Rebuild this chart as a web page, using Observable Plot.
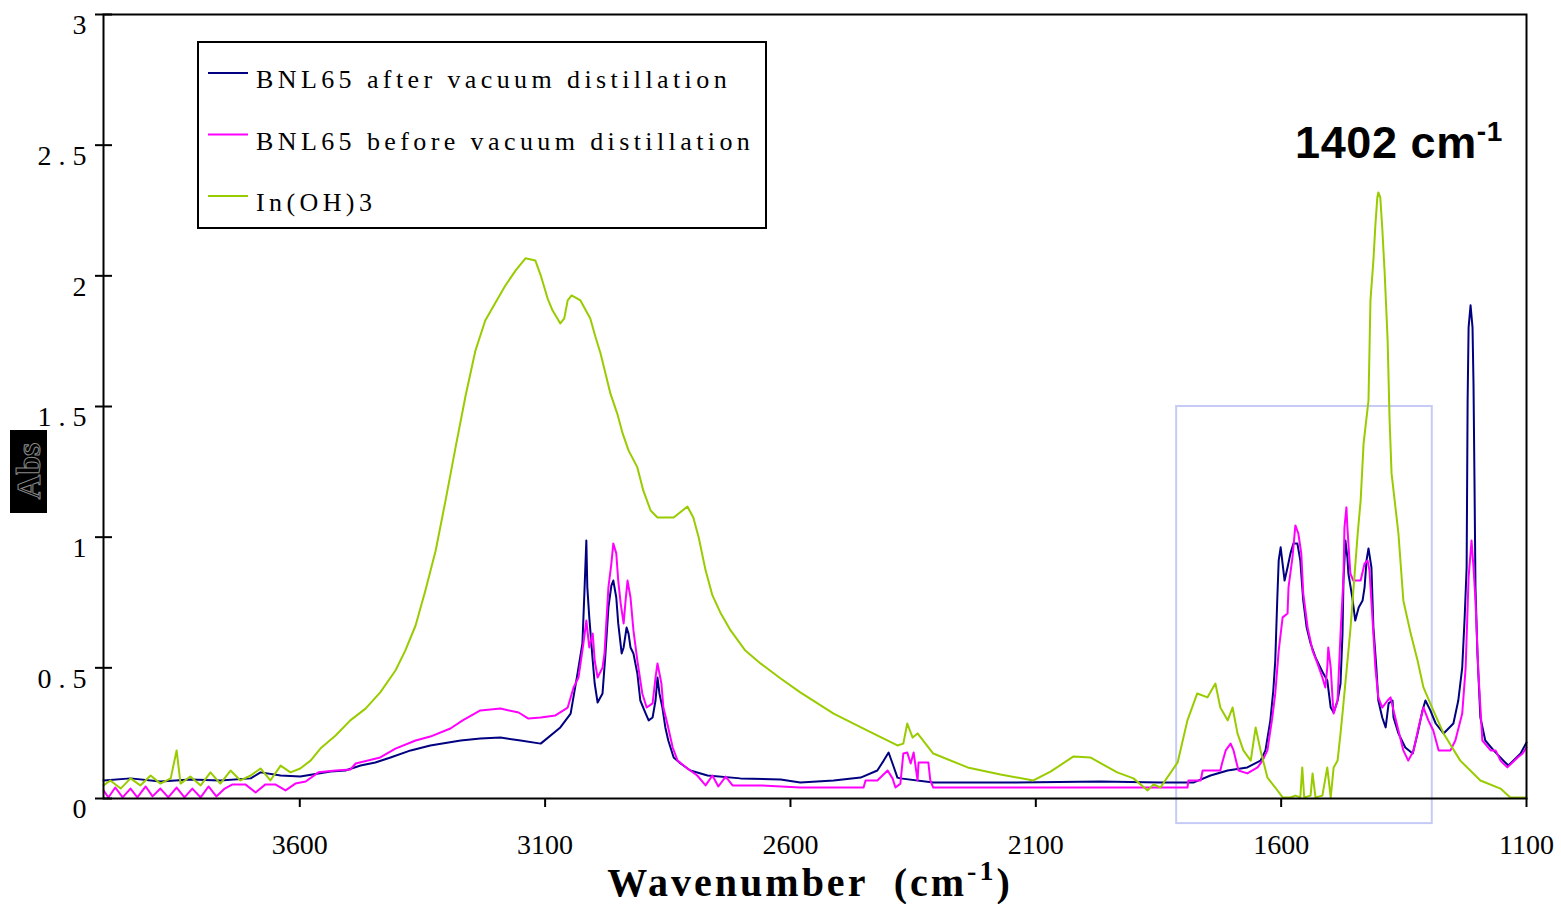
<!DOCTYPE html>
<html><head><meta charset="utf-8">
<script src="https://cdn.jsdelivr.net/npm/d3@7"></script>
<script src="https://cdn.jsdelivr.net/npm/@observablehq/plot@0.6"></script>
<style>body{margin:0;background:#fff} svg{display:block}</style>
</head><body><div id="chart"></div>
<script>
// ---- Data (wavenumber cm-1, absorbance) ----
const seriesNames = ["BNL65 after vacuum distillation", "BNL65 before vacuum distillation", "In(OH)3"];
const seriesColors = ["#000080", "#ff00ff", "#99cc00"];

const afterDistillation = [
[4000,0.069],[3945,0.077],[3884,0.065],[3823,0.073],[3762,0.069],[3700,0.077],[3680,0.100],[3639,0.088],[3599,0.084],
[3537,0.103],[3507,0.107],[3476,0.126],[3446,0.138],[3415,0.157],[3374,0.184],[3334,0.203],[3272,0.222],[3232,0.230],
[3191,0.233],[3150,0.222],[3109,0.210],[3069,0.272],[3048,0.325],[3034,0.478],[3024,0.593],[3020,0.785],[3016,0.987],
[3014,0.808],[3010,0.693],[3003,0.528],[2999,0.440],[2993,0.367],[2983,0.402],[2977,0.555],[2971,0.731],[2965,0.815],
[2961,0.834],[2955,0.769],[2951,0.670],[2944,0.555],[2940,0.578],[2934,0.654],[2930,0.631],[2926,0.578],[2920,0.555],
[2912,0.478],[2906,0.375],[2895,0.325],[2889,0.299],[2881,0.310],[2875,0.375],[2871,0.463],[2867,0.402],[2861,0.348],
[2855,0.272],[2849,0.222],[2838,0.157],[2824,0.134],[2804,0.107],[2769,0.088],[2702,0.077],[2620,0.073],[2580,0.061],
[2512,0.069],[2457,0.080],[2423,0.107],[2410,0.145],[2400,0.176],[2392,0.134],[2382,0.080],[2376,0.077],[2309,0.061],
[2172,0.061],[1968,0.065],[1846,0.061],[1779,0.061],[1744,0.088],[1709,0.107],[1669,0.119],[1642,0.145],[1632,0.184],
[1622,0.299],[1616,0.413],[1612,0.528],[1608,0.758],[1605,0.911],[1601,0.961],[1593,0.834],[1587,0.884],[1581,0.938],
[1575,0.976],[1567,0.976],[1561,0.911],[1555,0.758],[1548,0.654],[1540,0.593],[1530,0.540],[1520,0.501],[1514,0.478],
[1506,0.452],[1499,0.348],[1493,0.329],[1485,0.375],[1479,0.440],[1475,0.631],[1473,0.834],[1469,0.987],[1465,0.922],
[1463,0.861],[1455,0.769],[1449,0.681],[1442,0.731],[1434,0.758],[1430,0.808],[1426,0.911],[1422,0.957],[1416,0.884],
[1412,0.654],[1406,0.501],[1402,0.375],[1394,0.310],[1387,0.272],[1381,0.364],[1373,0.375],[1371,0.310],[1361,0.249],
[1347,0.195],[1332,0.172],[1322,0.249],[1312,0.337],[1306,0.375],[1296,0.337],[1285,0.287],[1269,0.249],[1249,0.287],
[1239,0.375],[1231,0.501],[1226,0.693],[1222,0.884],[1220,1.523],[1218,1.803],[1214,1.887],[1210,1.803],[1208,1.588],
[1206,1.217],[1204,0.808],[1200,0.555],[1194,0.310],[1184,0.222],[1167,0.184],[1147,0.145],[1137,0.126],[1127,0.145],
[1112,0.172],[1100,0.214]
];

const beforeDistillation = [
[4000,0.031],[3990,0.004],[3976,0.042],[3961,0.004],[3945,0.038],[3931,0.004],[3914,0.046],[3900,0.008],[3884,0.038],
[3868,0.004],[3851,0.042],[3835,0.004],[3819,0.038],[3802,0.004],[3786,0.046],[3770,0.008],[3753,0.038],[3737,0.054],
[3711,0.054],[3690,0.023],[3670,0.054],[3650,0.054],[3629,0.031],[3609,0.057],[3588,0.065],[3562,0.100],[3527,0.107],
[3497,0.111],[3486,0.134],[3436,0.157],[3405,0.191],[3364,0.222],[3334,0.237],[3293,0.268],[3268,0.299],[3232,0.337],
[3191,0.344],[3154,0.329],[3134,0.306],[3109,0.310],[3079,0.318],[3054,0.348],[3042,0.425],[3032,0.463],[3022,0.593],
[3016,0.681],[3010,0.578],[3003,0.631],[2999,0.528],[2993,0.463],[2983,0.501],[2979,0.555],[2971,0.808],[2965,0.899],
[2961,0.976],[2955,0.938],[2951,0.834],[2946,0.746],[2940,0.670],[2936,0.758],[2932,0.834],[2926,0.769],[2920,0.643],
[2912,0.528],[2902,0.402],[2893,0.348],[2881,0.364],[2875,0.463],[2871,0.517],[2863,0.440],[2859,0.348],[2851,0.287],
[2840,0.195],[2830,0.145],[2810,0.115],[2790,0.088],[2773,0.050],[2759,0.088],[2747,0.046],[2732,0.084],[2718,0.050],
[2661,0.050],[2580,0.042],[2451,0.042],[2447,0.069],[2423,0.069],[2402,0.107],[2392,0.077],[2386,0.042],[2376,0.057],
[2370,0.172],[2362,0.176],[2355,0.134],[2349,0.176],[2341,0.069],[2339,0.138],[2319,0.138],[2315,0.069],[2309,0.042],
[1968,0.042],[1791,0.042],[1789,0.069],[1764,0.069],[1760,0.107],[1724,0.107],[1720,0.138],[1713,0.184],[1703,0.210],
[1697,0.184],[1687,0.107],[1669,0.096],[1648,0.119],[1638,0.145],[1628,0.184],[1618,0.310],[1612,0.402],[1605,0.566],
[1597,0.693],[1587,0.708],[1585,0.808],[1577,0.922],[1571,1.045],[1565,1.014],[1559,0.938],[1555,0.785],[1546,0.654],
[1536,0.566],[1526,0.517],[1516,0.463],[1510,0.425],[1506,0.501],[1504,0.578],[1499,0.501],[1495,0.375],[1493,0.325],
[1485,0.375],[1479,0.631],[1473,0.846],[1471,1.037],[1467,1.114],[1465,1.037],[1459,0.861],[1453,0.834],[1438,0.834],
[1430,0.899],[1424,0.911],[1420,0.873],[1414,0.693],[1408,0.501],[1402,0.387],[1394,0.348],[1383,0.375],[1377,0.387],
[1371,0.337],[1361,0.260],[1351,0.184],[1341,0.145],[1330,0.184],[1320,0.272],[1310,0.348],[1300,0.299],[1290,0.260],
[1279,0.184],[1255,0.184],[1245,0.222],[1231,0.325],[1224,0.501],[1218,0.846],[1212,0.987],[1208,0.884],[1204,0.758],
[1198,0.478],[1190,0.222],[1173,0.184],[1163,0.184],[1153,0.145],[1139,0.119],[1118,0.157],[1108,0.172],[1100,0.195]
];

const indiumHydroxide = [
[4000,0.050],[3986,0.069],[3965,0.038],[3945,0.077],[3925,0.050],[3904,0.088],[3884,0.057],[3863,0.077],[3851,0.184],
[3843,0.057],[3823,0.084],[3802,0.050],[3782,0.100],[3762,0.057],[3741,0.107],[3721,0.069],[3700,0.088],[3680,0.115],
[3660,0.069],[3639,0.126],[3619,0.100],[3599,0.115],[3578,0.145],[3558,0.191],[3527,0.241],[3497,0.299],[3466,0.344],
[3436,0.406],[3405,0.490],[3385,0.566],[3364,0.662],[3344,0.796],[3323,0.949],[3303,1.140],[3283,1.339],[3262,1.542],
[3242,1.714],[3222,1.829],[3201,1.898],[3181,1.963],[3160,2.021],[3140,2.067],[3120,2.059],[3109,2.002],[3095,1.914],
[3085,1.868],[3069,1.818],[3061,1.837],[3054,1.906],[3046,1.925],[3028,1.906],[3008,1.837],[2997,1.764],[2987,1.703],
[2977,1.626],[2967,1.550],[2953,1.473],[2942,1.397],[2930,1.332],[2912,1.267],[2900,1.179],[2885,1.102],[2871,1.075],
[2838,1.075],[2810,1.117],[2798,1.075],[2787,0.999],[2773,0.873],[2759,0.777],[2743,0.712],[2722,0.643],[2692,0.566],
[2661,0.517],[2620,0.459],[2580,0.406],[2512,0.325],[2443,0.260],[2382,0.203],[2370,0.210],[2362,0.287],[2351,0.233],
[2341,0.249],[2309,0.172],[2239,0.119],[2172,0.092],[2105,0.069],[2070,0.103],[2023,0.161],[1989,0.157],[1934,0.100],
[1901,0.077],[1872,0.031],[1860,0.054],[1846,0.042],[1811,0.138],[1791,0.299],[1771,0.402],[1750,0.387],[1734,0.440],
[1724,0.348],[1709,0.299],[1699,0.348],[1689,0.249],[1677,0.184],[1662,0.145],[1652,0.272],[1642,0.184],[1628,0.080],
[1612,0.042],[1597,0.004],[1581,0.004],[1571,0.011],[1561,0.004],[1557,0.119],[1553,0.004],[1540,0.011],[1536,0.096],
[1530,0.004],[1516,0.011],[1506,0.119],[1499,0.004],[1493,0.119],[1485,0.145],[1479,0.249],[1475,0.325],[1459,0.643],
[1444,1.014],[1438,1.140],[1432,1.359],[1422,1.523],[1418,1.906],[1412,2.059],[1408,2.193],[1404,2.300],[1402,2.319],
[1398,2.300],[1394,2.185],[1389,2.009],[1383,1.753],[1379,1.447],[1375,1.244],[1361,1.014],[1351,0.758],[1336,0.631],
[1322,0.528],[1310,0.425],[1290,0.337],[1269,0.249],[1235,0.145],[1194,0.069],[1153,0.038],[1133,0.004],[1100,0.004]
];

const xTicks = [3600, 3100, 2600, 2100, 1600, 1100];
const yTicks = [0, 0.5, 1, 1.5, 2, 2.5, 3];
const yTickLabels = ["0", "0 . 5", "1", "1 . 5", "2", "2 . 5", "3"];
const highlightBox = [{x1: 1813, x2: 1292, y1: -0.096, y2: 1.5}];
const peakLabel = "1402 cm";
const xAxisTitle = "Wavenumber  (cm";
const yAxisTitle = "Abs";

// ---- Build rows ----
const rows = (pairs, name) => pairs.map(([wn, abs]) => ({wn, abs, name}));
const seriesData = [afterDistillation, beforeDistillation, indiumHydroxide].map((p, i) => rows(p, seriesNames[i]));

const plot = Plot.plot({
  width: 1561, height: 904,
  marginTop: 14, marginRight: 35, marginBottom: 106, marginLeft: 103,
  style: {background: "white", fontFamily: "'Liberation Serif', 'Times New Roman', serif", fontSize: "28px", color: "black"},
  x: {domain: [4000, 1100]},
  y: {domain: [0, 3]},
  marks: [
    Plot.rect(highlightBox, {x1: "x1", x2: "x2", y1: "y1", y2: "y2", fill: "none", stroke: "#c6cbf6", strokeWidth: 2}),
    Plot.line(seriesData[0], {x: "wn", y: "abs", stroke: seriesColors[0], strokeWidth: 2}),
    Plot.line(seriesData[1], {x: "wn", y: "abs", stroke: seriesColors[1], strokeWidth: 2}),
    Plot.line(seriesData[2], {x: "wn", y: "abs", stroke: seriesColors[2], strokeWidth: 2}),
    Plot.frame({stroke: "black", strokeWidth: 2}),
    Plot.axisX({ticks: xTicks, tickSize: 9, tickPadding: 27, tickFormat: d => String(d), label: null, strokeWidth: 2}),
    Plot.axisY({ticks: yTicks, tickSize: 0, tickPadding: 17, dy: 11, tickFormat: d => yTickLabels[yTicks.indexOf(d)], label: null}),
    Plot.axisY({ticks: yTicks, tickSize: 17, dx: 9, tickFormat: () => "", label: null, strokeWidth: 2})
  ]
});

document.getElementById("chart").appendChild(plot);
const svg = d3.select(plot);

// Legend
const lg = svg.append("g").attr("text-anchor", "start");
lg.append("rect").attr("x", 198).attr("y", 42).attr("width", 568).attr("height", 186)
  .attr("fill", "white").attr("stroke", "black").attr("stroke-width", 2);
seriesNames.forEach((name, i) => {
  const y = 73 + i * 61.5;
  lg.append("line").attr("x1", 208).attr("x2", 248).attr("y1", y).attr("y2", y)
    .attr("stroke", seriesColors[i]).attr("stroke-width", 2);
  lg.append("text").attr("x", 256).attr("y", y + 15).text(name).attr("text-anchor", "start")
    .attr("font-family", "'Liberation Serif', serif").attr("font-size", 26)
    .attr("letter-spacing", "4.4px").attr("fill", "black");
});

// Peak annotation
const pk = svg.append("text").attr("x", 1295).attr("y", 158).attr("text-anchor", "start")
  .attr("font-family", "'Liberation Sans', Arial, sans-serif").attr("font-weight", "bold")
  .attr("font-size", 45).attr("letter-spacing", "0.6px").attr("fill", "black");
pk.append("tspan").text(peakLabel);
pk.append("tspan").attr("font-size", 28).attr("dy", -17).text("-1");

// X axis title
const xt = svg.append("text").attr("x", 810).attr("y", 896).attr("text-anchor", "middle")
  .attr("font-family", "'Liberation Serif', serif").attr("font-weight", "bold")
  .attr("font-size", 40).attr("letter-spacing", "3px").style("white-space", "pre").attr("fill", "black");
xt.append("tspan").text(xAxisTitle);
xt.append("tspan").attr("font-size", 28).attr("dy", -16).text("-1");
xt.append("tspan").attr("dy", 16).text(")");

// Y axis title (boxed)
svg.append("rect").attr("x", 10).attr("y", 430).attr("width", 37).attr("height", 83).attr("fill", "black");
svg.append("text").attr("transform", "translate(40,471) rotate(-90)").attr("text-anchor", "middle")
  .attr("font-family", "'Liberation Serif', serif").attr("font-weight", "bold").attr("font-size", 34)
  .attr("fill", "black").attr("stroke", "#8a8a8a").attr("stroke-width", 1).text(yAxisTitle);
</script>
</body></html>
